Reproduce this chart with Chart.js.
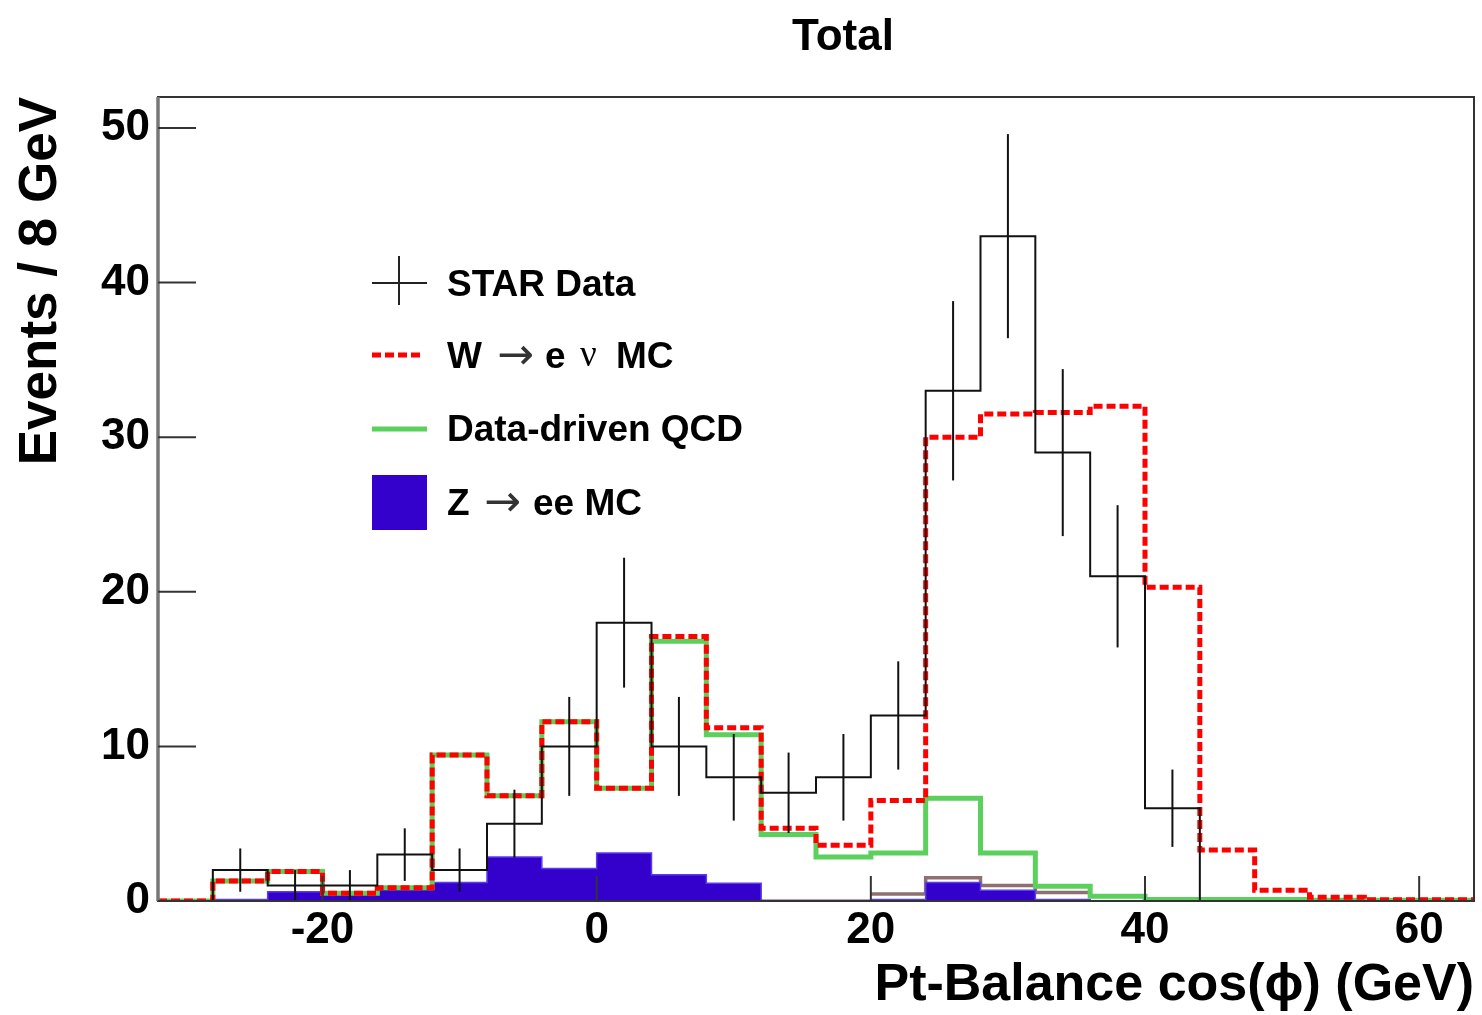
<!DOCTYPE html>
<html>
<head>
<meta charset="utf-8">
<script src="https://cdn.jsdelivr.net/npm/chart.js@4/dist/chart.umd.min.js"></script>
<style>
html,body{margin:0;padding:0;background:#fff;}
#wrap{position:relative;width:1482px;height:1015px;overflow:hidden;}
#c{position:absolute;left:0;top:0;}
.t{position:absolute;font-family:"Liberation Sans",Arial,Helvetica,sans-serif;font-weight:bold;color:#000;white-space:nowrap;line-height:1;}
.leg{font-size:37px;}
.arr{font-family:"DejaVu Sans",sans-serif;font-weight:normal;font-size:44px;color:#333;}
.nu{font-family:"Liberation Serif","DejaVu Serif",serif;font-weight:normal;font-size:37px;}
svg{position:absolute;left:0;top:0;pointer-events:none;}
</style>
</head>
<body>
<div id="wrap">
<canvas id="c" width="1482" height="1015"></canvas>
<div class="t" style="left:843px;top:35px;font-size:44px;transform:translate(-50%,-50%);">Total</div>

<svg width="1482" height="1015">
  <line x1="372" y1="283" x2="427" y2="283" stroke="#222" stroke-width="2"/>
  <line x1="399" y1="256" x2="399" y2="305" stroke="#222" stroke-width="2"/>
  <line x1="372" y1="355" x2="421" y2="355" stroke="#ff0000" stroke-width="5" stroke-dasharray="9,4"/>
  <line x1="372" y1="429" x2="427" y2="429" stroke="#5cd05c" stroke-width="5"/>
  <rect x="372" y="475" width="55" height="55" fill="#3300cc"/>
</svg>

<div class="t leg" style="left:447px;top:265px;">STAR Data</div>
<div class="t leg" style="left:447px;top:337px;">W</div>
<div class="t arr" style="left:497px;top:332px;">→</div>
<div class="t leg" style="left:545px;top:337px;">e</div>
<div class="t nu" style="left:580px;top:335px;">ν</div>
<div class="t leg" style="left:616px;top:337px;">MC</div>
<div class="t leg" style="left:447px;top:410px;">Data-driven QCD</div>
<div class="t leg" style="left:447px;top:484px;">Z</div>
<div class="t arr" style="left:484px;top:479px;">→</div>
<div class="t leg" style="left:533px;top:484px;">ee MC</div>
</div>

<script>
// ---- Data ----
const binLowEdges = [-32,-28,-24,-20,-16,-12,-8,-4,0,4,8,12,16,20,24,28,32,36,40,44,48,52,56,60];
const binWidth = 4;
const starData = [0, 2, 1, 1, 3, 2, 5, 10, 18, 10, 8, 7, 8, 12, 33, 43, 29, 21, 6, 0, 0, 0, 0, 0];
const starErr  = [0, 1.4, 1.0, 1.0, 1.7, 1.4, 2.2, 3.2, 4.2, 3.2, 2.8, 2.6, 2.8, 3.5, 5.8, 6.6, 5.4, 4.6, 2.5, 0, 0, 0, 0, 0];
const wMC      = [0, 1.3, 1.9, 0.5, 0.85, 9.45, 6.8, 11.6, 7.3, 17.1, 11.2, 4.7, 3.6, 6.5, 30.0, 31.5, 31.6, 32.0, 20.3, 3.3, 0.7, 0.25, 0.08, 0.08];
const qcdData  = [0, 1.3, 1.9, 0.5, 0.85, 9.45, 6.8, 11.6, 7.3, 16.8, 10.75, 4.3, 2.85, 3.1, 6.65, 3.1, 0.95, 0.3, 0.1, 0.1, 0.1, 0.05, 0.05, 0.05];
const zMC      = [0, 0.1, 0.6, 0.5, 0.75, 1.2, 2.85, 2.1, 3.1, 1.7, 1.15, 0.05, 0.05, 0.1, 1.2, 0.7, 0.1, 0, 0, 0, 0, 0, 0, 0];
const otherMC  = [null, null, null, null, null, null, null, null, null, null, null, null, null, 0.45, 1.5, 1.0, 0.55, null, null, null, null, null, null, null];
const xTicks = [-20, 0, 20, 40, 60];
const yTicks = [0, 10, 20, 30, 40, 50];

const FONT = '"Liberation Sans", Arial, Helvetica, sans-serif';

function stepPoints(values) {
  const pts = [];
  for (let i = 0; i < values.length; i++) {
    const v = values[i];
    if (v === null) { pts.push({x: binLowEdges[i], y: null}); continue; }
    pts.push({x: binLowEdges[i], y: v});
    if (i === values.length - 1 || values[i + 1] === null) pts.push({x: binLowEdges[i] + binWidth, y: v});
  }
  return pts;
}

const framePlugin = {
  id: 'frame',
  afterDraw(chart) {
    const {ctx, chartArea: a, scales} = chart;
    ctx.save();
    ctx.strokeStyle = '#333';
    ctx.lineWidth = 2;
    ctx.strokeRect(a.left, a.top, a.right - a.left, a.bottom - a.top);
    ctx.strokeStyle = '#777';
    ctx.lineWidth = 3.5;
    ctx.beginPath(); ctx.moveTo(a.left, a.top); ctx.lineTo(a.left, a.bottom); ctx.stroke();
    ctx.strokeStyle = '#333';
    ctx.lineWidth = 2;
    yTicks.forEach(v => {
      const y = scales.y.getPixelForValue(v);
      ctx.beginPath(); ctx.moveTo(a.left, y); ctx.lineTo(a.left + 38, y); ctx.stroke();
    });
    xTicks.forEach(v => {
      const x = scales.x.getPixelForValue(v);
      ctx.beginPath(); ctx.moveTo(x, a.bottom); ctx.lineTo(x, a.bottom - 25); ctx.stroke();
    });
    ctx.restore();
  }
};

const errPlugin = {
  id: 'errbars',
  afterDatasetsDraw(chart) {
    const {ctx, scales} = chart;
    ctx.save();
    ctx.strokeStyle = '#111';
    ctx.lineWidth = 2;
    starData.forEach((v, i) => {
      const e = starErr[i];
      if (!e) return;
      const x = scales.x.getPixelForValue(binLowEdges[i] + binWidth / 2);
      ctx.beginPath();
      ctx.moveTo(x, scales.y.getPixelForValue(v + e));
      ctx.lineTo(x, scales.y.getPixelForValue(Math.max(0, v - e)));
      ctx.stroke();
    });
    ctx.restore();
  }
};

new Chart(document.getElementById('c'), {
  type: 'line',
  data: {
    datasets: [
      {label: 'STAR Data', data: stepPoints(starData), stepped: 'before', borderColor: '#111', borderWidth: 2, pointRadius: 0, fill: false, order: 0},
      {label: 'W → e ν MC', data: stepPoints(wMC), stepped: 'before', borderColor: '#ff0000', borderWidth: 5, borderDash: [9, 4], pointRadius: 0, fill: false, order: 1},
      {label: 'Data-driven QCD', data: stepPoints(qcdData), stepped: 'before', borderColor: '#5cd05c', borderWidth: 5, pointRadius: 0, fill: false, order: 2},
      {label: 'Z → ee MC', data: stepPoints(zMC), stepped: 'before', borderColor: '#5a3cf0', backgroundColor: '#3300cc', borderWidth: 1.5, pointRadius: 0, fill: 'origin', order: 3},
      {label: 'Other MC', data: stepPoints(otherMC), stepped: 'before', borderColor: '#8e6f72', borderWidth: 3.5, pointRadius: 0, fill: false, spanGaps: false, order: 4}
    ]
  },
  options: {
    responsive: false,
    animation: false,
    layout: {padding: {top: 97, right: 8, left: 0, bottom: 0}},
    plugins: {legend: {display: false}, title: {display: false}, tooltip: {enabled: false}},
    scales: {
      x: {
        type: 'linear', min: -32, max: 64,
        afterBuildTicks: s => { s.ticks = xTicks.map(v => ({value: v})); },
        afterFit: s => { s.height = 114; },
        grid: {display: false, drawTicks: false},
        border: {display: false},
        ticks: {font: {family: FONT, size: 44, weight: 'bold'}, color: '#000', padding: 3, maxRotation: 0, autoSkip: false},
        title: {display: true, text: 'Pt-Balance cos(ϕ) (GeV)', align: 'end', color: '#000',
                font: {family: FONT, size: 52, weight: 'bold', lineHeight: 1}, padding: {top: 0, bottom: 3}}
      },
      y: {
        type: 'linear', min: 0, max: 52,
        afterBuildTicks: s => { s.ticks = yTicks.map(v => ({value: v})); },
        afterFit: s => { s.width = 158; },
        grid: {display: false, drawTicks: false},
        border: {display: false},
        ticks: {font: {family: FONT, size: 44, weight: 'bold'}, color: '#000', padding: 8},
        title: {display: true, text: 'Events / 8 GeV', align: 'end', color: '#000',
                font: {family: FONT, size: 53, weight: 'bold', lineHeight: 1}, padding: {top: 15, bottom: 0}}
      }
    }
  },
  plugins: [framePlugin, errPlugin]
});
</script>
</body>
</html>
